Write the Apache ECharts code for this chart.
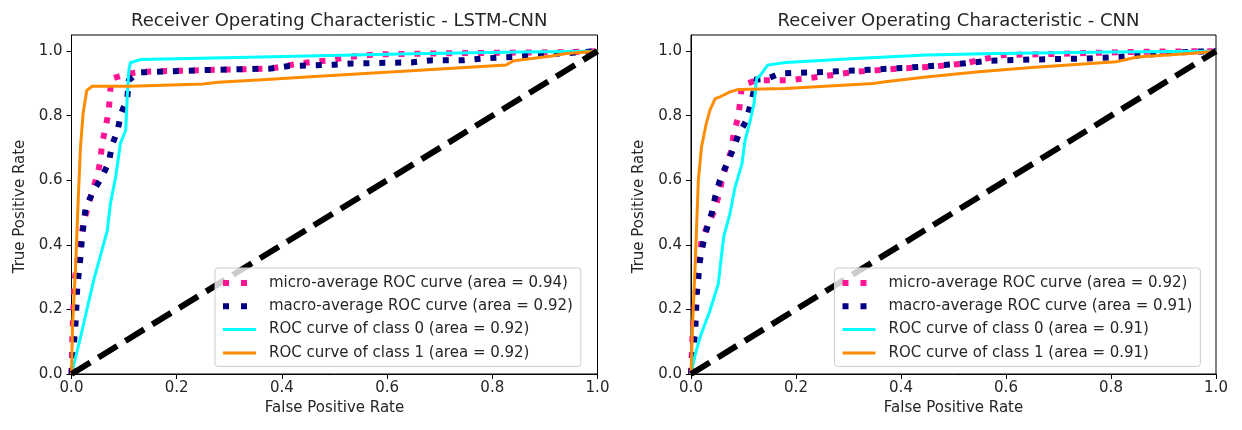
<!DOCTYPE html>
<html><head><meta charset="utf-8">
<script src="https://cdn.jsdelivr.net/npm/echarts@6/dist/echarts.min.js"></script>
<style>html,body{margin:0;padding:0;background:#fff}#c{width:1242px;height:430px}</style>
</head><body><div id="c"></div><script>
// ---------- DATA ----------
const titles = ['Receiver Operating Characteristic - LSTM-CNN', 'Receiver Operating Characteristic - CNN'];
const xTicks = [0, 0.2, 0.4, 0.6, 0.8, 1.0];
const yTicks = [0, 0.2, 0.4, 0.6, 0.8, 1.0];

const lstmNames = ['micro-average ROC curve (area = 0.94)', 'macro-average ROC curve (area = 0.92)',
                   'ROC curve of class 0 (area = 0.92)', 'ROC curve of class 1 (area = 0.92)'];
const cnnNames = ['micro-average ROC curve (area = 0.92)', 'macro-average ROC curve (area = 0.91)',
                  'ROC curve of class 0 (area = 0.91)', 'ROC curve of class 1 (area = 0.91)'];

// [false positive rate, true positive rate]
const lstmMicro = [[0,0],[0.002,0.14],[0.006,0.29],[0.014,0.38],[0.023,0.47],[0.039,0.563],[0.049,0.615],[0.055,0.66],[0.058,0.713],[0.065,0.765],[0.071,0.817],[0.073,0.868],[0.076,0.915],[0.106,0.93],[0.132,0.936],[0.246,0.941],[0.379,0.946],[0.433,0.962],[0.493,0.972],[0.526,0.982],[0.58,0.99],[0.75,0.994],[0.95,0.997],[1,1]];
const lstmMacro = [[0,0],[0.004,0.08],[0.008,0.165],[0.011,0.268],[0.017,0.361],[0.02,0.423],[0.027,0.516],[0.042,0.568],[0.058,0.61],[0.071,0.656],[0.077,0.708],[0.088,0.757],[0.094,0.806],[0.106,0.853],[0.109,0.91],[0.128,0.934],[0.246,0.941],[0.379,0.946],[0.413,0.954],[0.499,0.958],[0.533,0.962],[0.646,0.965],[0.686,0.972],[0.746,0.972],[0.78,0.977],[0.84,0.982],[0.906,0.99],[1,1]];
const lstmClass0 = [[0,0],[0.017,0.113],[0.042,0.289],[0.068,0.444],[0.074,0.528],[0.084,0.61],[0.093,0.714],[0.103,0.755],[0.106,0.858],[0.109,0.941],[0.112,0.964],[0.131,0.974],[0.36,0.982],[0.646,0.992],[0.85,0.997],[1,1]];
const lstmClass1 = [[0,0],[0.002,0.15],[0.008,0.34],[0.013,0.55],[0.017,0.70],[0.022,0.807],[0.029,0.878],[0.039,0.891],[0.113,0.891],[0.25,0.898],[0.279,0.904],[0.379,0.913],[0.446,0.92],[0.646,0.939],[0.826,0.957],[0.84,0.97],[0.913,0.985],[0.94,0.993],[1,1]];

const cnnMicro = [[0,0],[0.003,0.12],[0.008,0.237],[0.014,0.32],[0.02,0.413],[0.03,0.454],[0.043,0.501],[0.052,0.548],[0.059,0.6],[0.068,0.651],[0.078,0.698],[0.081,0.744],[0.09,0.796],[0.094,0.848],[0.097,0.894],[0.125,0.91],[0.186,0.91],[0.247,0.921],[0.314,0.936],[0.394,0.946],[0.455,0.951],[0.521,0.962],[0.562,0.977],[0.595,0.988],[0.682,0.991],[0.85,0.998],[1,1]];
const cnnMacro = [[0,0],[0.008,0.134],[0.011,0.248],[0.017,0.351],[0.023,0.403],[0.03,0.449],[0.04,0.501],[0.046,0.548],[0.055,0.6],[0.067,0.646],[0.078,0.687],[0.09,0.739],[0.105,0.784],[0.113,0.832],[0.125,0.912],[0.146,0.915],[0.17,0.931],[0.26,0.936],[0.327,0.941],[0.414,0.949],[0.508,0.96],[0.568,0.97],[0.649,0.974],[0.749,0.977],[0.816,0.982],[0.883,0.991],[0.95,0.998],[1,1]];
const cnnClass0 = [[0,0],[0.008,0.06],[0.017,0.113],[0.036,0.196],[0.052,0.279],[0.062,0.423],[0.074,0.496],[0.084,0.579],[0.097,0.651],[0.103,0.724],[0.113,0.786],[0.12,0.838],[0.125,0.915],[0.132,0.925],[0.146,0.957],[0.18,0.965],[0.314,0.977],[0.448,0.988],[0.582,0.993],[0.8,0.997],[1,1]];
const cnnClass1 = [[0,0],[0.003,0.15],[0.008,0.34],[0.014,0.6],[0.02,0.703],[0.029,0.775],[0.036,0.817],[0.046,0.853],[0.055,0.858],[0.074,0.874],[0.09,0.881],[0.18,0.884],[0.347,0.9],[0.37,0.905],[0.448,0.92],[0.548,0.936],[0.649,0.949],[0.81,0.967],[0.85,0.982],[0.95,0.993],[1,1]];

const chanceLine = [[0,0],[1,1]];

// ---------- STYLE ----------
const FONT = 'DejaVu Sans';
const TXT = '#262626';
const colors = ['#ff1493', '#000080', '#00ffff', '#ff8c00'];
const gridPos = [{left: 71.5, right: 644.5}, {left: 691, right: 26}];
const legendLeft = [215, 834.5];

const panels = [
  {names: lstmNames, data: [lstmMicro, lstmMacro, lstmClass0, lstmClass1]},
  {names: cnnNames, data: [cnnMicro, cnnMacro, cnnClass0, cnnClass1]}
];

const option = {
  animation: false,
  backgroundColor: '#fff',
  textStyle: {fontFamily: FONT, color: TXT},
  title: [], grid: [], xAxis: [], yAxis: [], legend: [], series: []
};

panels.forEach((p, i) => {
  const g = gridPos[i];
  option.grid.push({left: g.left, right: g.right, top: 35, bottom: 56, show: true,
    borderColor: '#000', borderWidth: 1, backgroundColor: 'transparent', containLabel: false});
  const cx = i === 0 ? (71.5 + 597) / 2 : (691 + 1216) / 2;
  option.title.push({text: titles[i], left: cx, top: 7, textAlign: 'center',
    textStyle: {fontFamily: FONT, fontSize: 18, fontWeight: 'normal', color: TXT}});
  option.xAxis.push({gridIndex: i, type: 'value', min: 0, max: 1, interval: 0.2,
    name: 'False Positive Rate', nameLocation: 'middle', nameGap: 27,
    nameTextStyle: {fontFamily: FONT, fontSize: 15, color: TXT},
    axisLine: {show: true, onZero: false, lineStyle: {color: '#000', width: 1}},
    axisTick: {show: true, length: 5, customValues: xTicks, lineStyle: {color: '#000', width: 1}},
    axisLabel: {fontFamily: FONT, fontSize: 15, color: TXT, margin: 7, customValues: xTicks,
      formatter: v => Number(v).toFixed(1)},
    splitLine: {show: false}});
  option.yAxis.push({gridIndex: i, type: 'value', min: 0, max: 1.05,
    name: 'True Positive Rate', nameLocation: 'middle', nameGap: 44,
    nameTextStyle: {fontFamily: FONT, fontSize: 15, color: TXT, padding: [0, 4, 0, 0]},
    axisLine: {show: true, onZero: false, lineStyle: {color: '#000', width: 1}},
    axisTick: {show: true, length: 5, customValues: yTicks, lineStyle: {color: '#000', width: 1}},
    axisLabel: {fontFamily: FONT, fontSize: 15, color: TXT, margin: 9, customValues: yTicks,
      formatter: v => Number(v).toFixed(1)},
    splitLine: {show: false}});
  option.legend.push({orient: 'vertical', left: legendLeft[i], top: 268,
    itemWidth: 33, itemHeight: 15, itemGap: 8.3, padding: [7.5, 8, 6, 5],
    backgroundColor: 'rgba(255,255,255,0.8)', borderColor: '#cccccc', borderWidth: 1, borderRadius: 3,
    textStyle: {fontFamily: FONT, fontSize: 15, color: TXT, padding: [0, 0, 0, 8]},
    lineStyle: {width: 'inherit', type: 'inherit'},
    itemStyle: {opacity: 0, borderWidth: 0},
    selectedMode: false,
    data: p.names.map((n, k) => k < 2 ? {name: n, lineStyle: {type: [6, 12], width: 6}} : {name: n}),
    z: 20});
  p.data.forEach((d, k) => {
    const dotted = k < 2;
    option.series.push({type: 'line', name: p.names[k], xAxisIndex: i, yAxisIndex: i,
      data: d, symbol: 'none', showSymbol: false, smooth: false, silent: true,
      itemStyle: {color: colors[k]},
      lineStyle: {color: colors[k], width: dotted ? 6 : 3, type: dotted ? [6, 9.9] : 'solid', cap: 'butt', join: 'miter'},
      z: 2 + k});
  });
  option.series.push({type: 'line', name: 'chance', xAxisIndex: i, yAxisIndex: i, data: chanceLine,
    symbol: 'none', silent: true,
    lineStyle: {color: '#000', width: 6, type: [22, 9.6], cap: 'butt'}, z: 8});
});

const chart = echarts.init(document.getElementById('c'), null, {renderer: 'canvas'});
chart.setOption(option);
</script></body></html>
